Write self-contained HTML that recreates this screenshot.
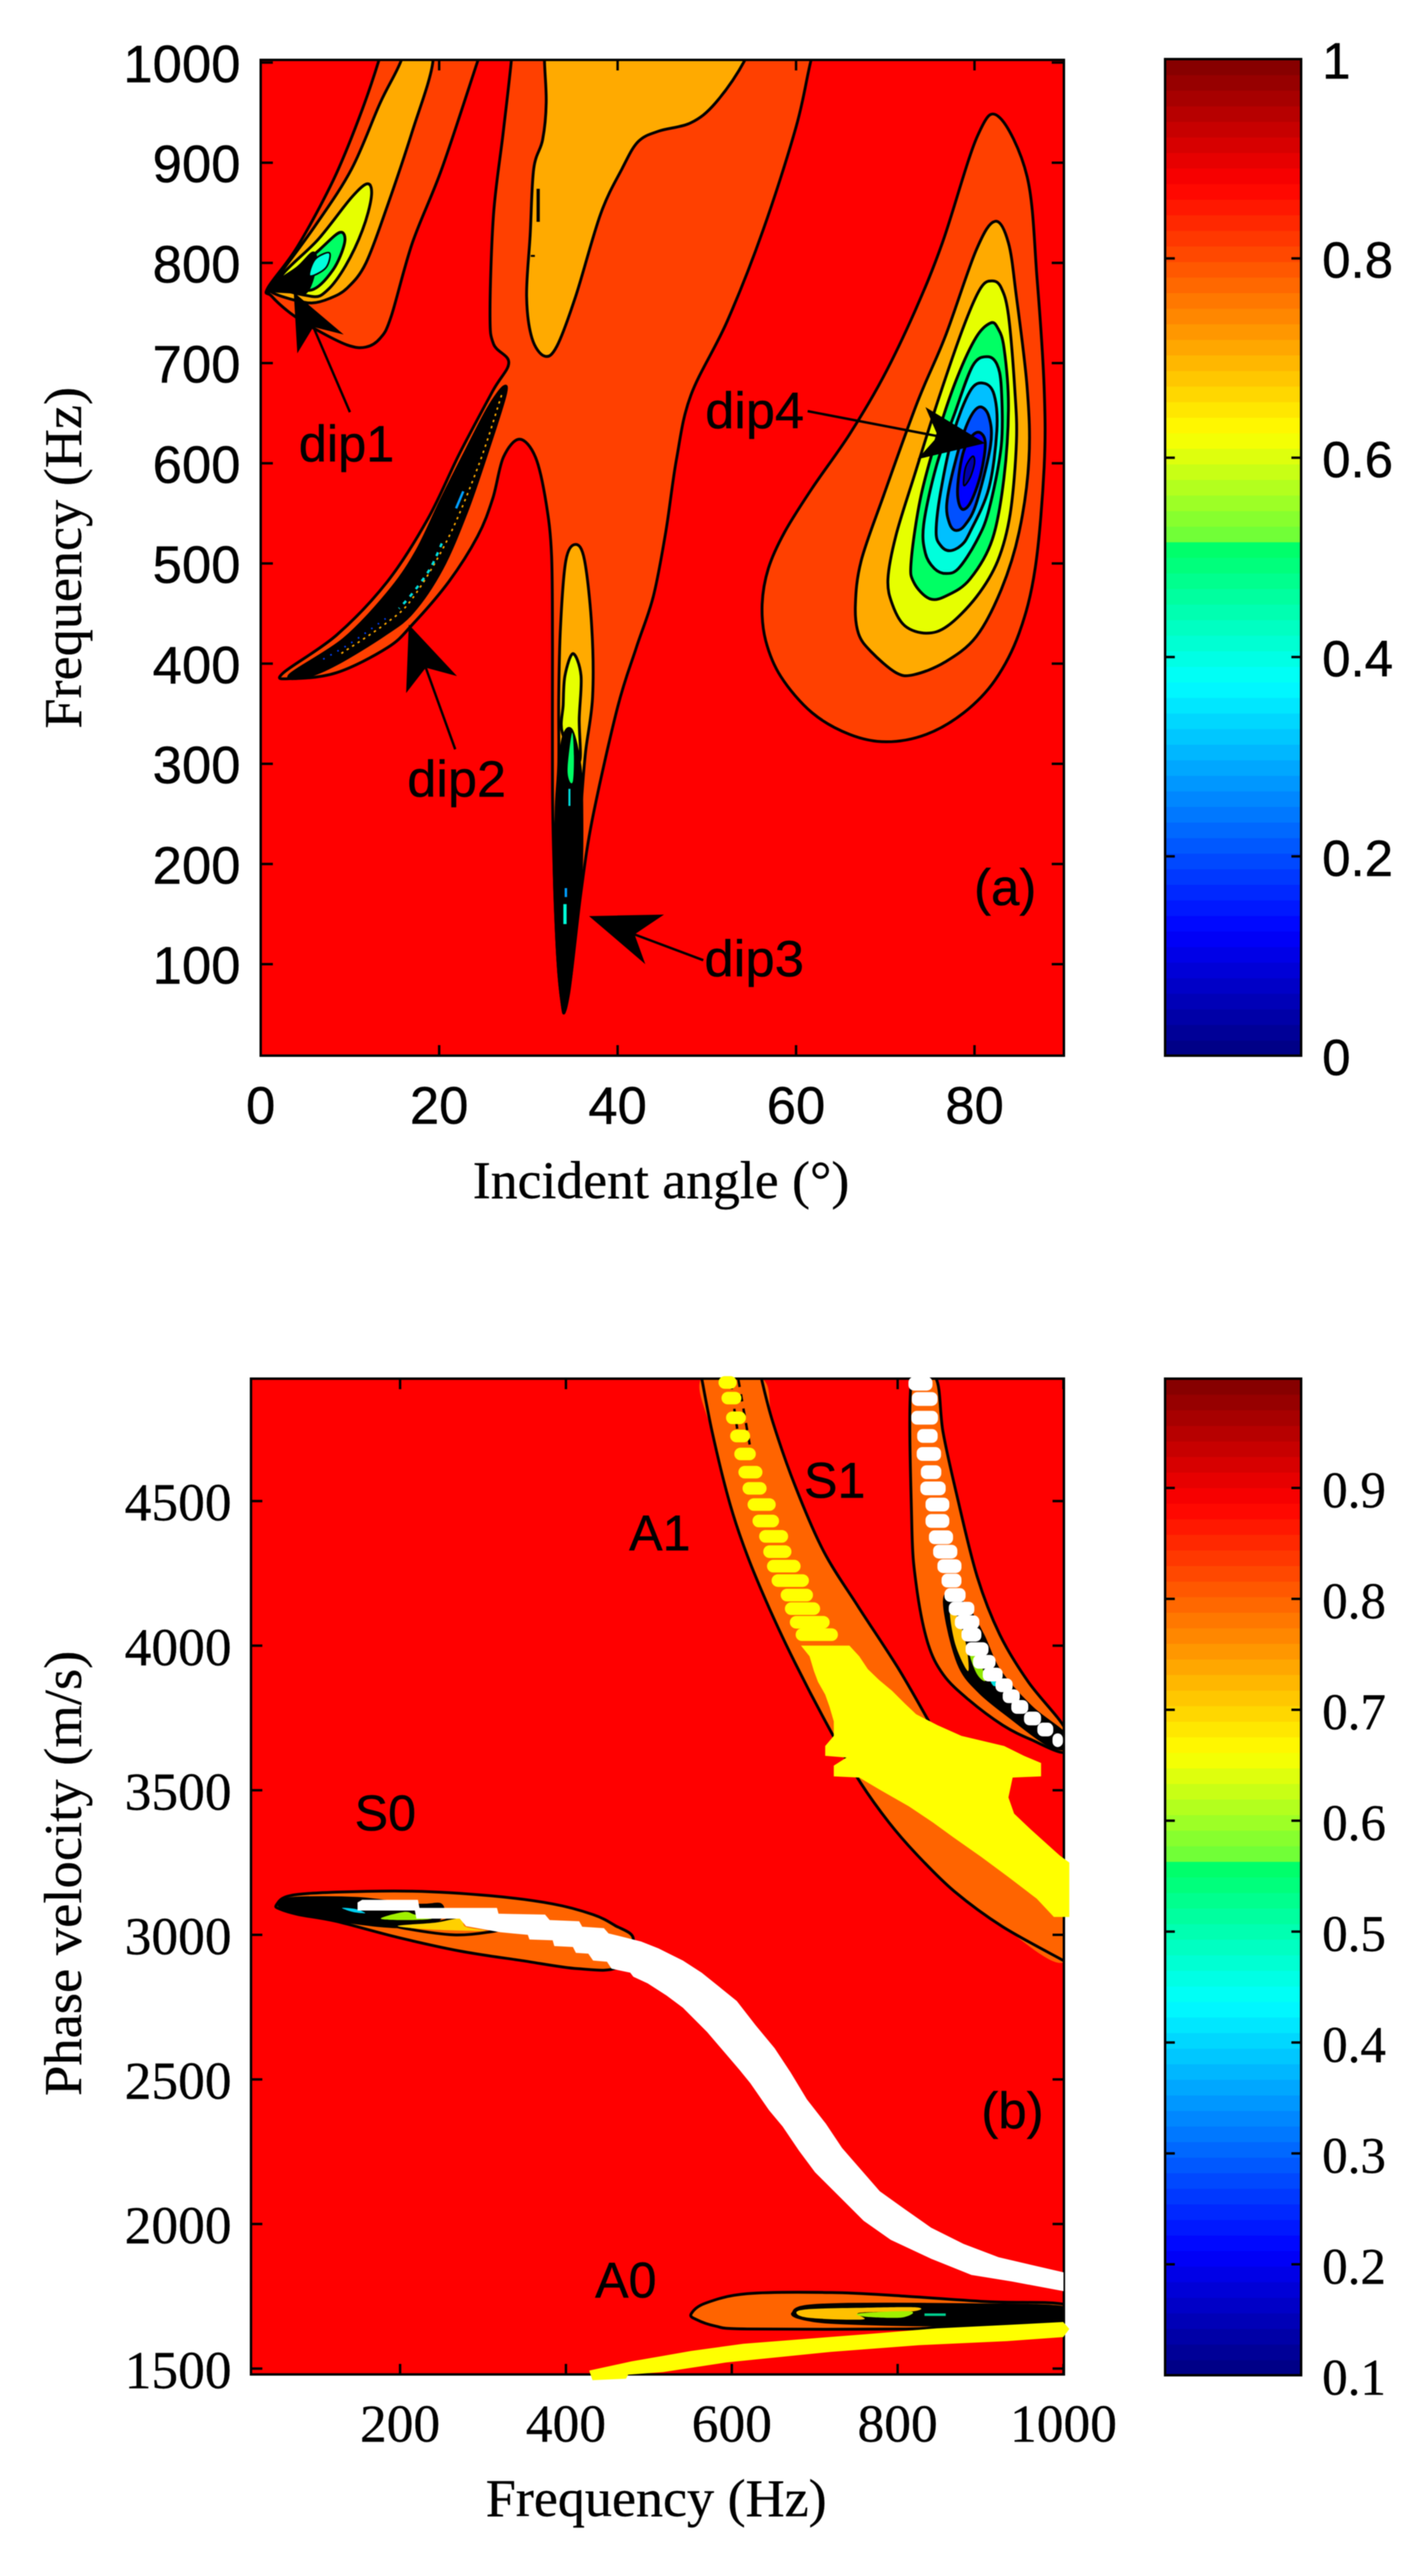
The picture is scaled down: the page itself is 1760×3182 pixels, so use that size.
<!DOCTYPE html>
<html lang="en">
<head>
<meta charset="utf-8">
<title>Reflection contour and dispersion figure</title>
<style>
html,body{margin:0;padding:0;background:#fff}
svg{display:block;filter:blur(.6px)}
.sans{font-family:"Liberation Sans",Arial,sans-serif;fill:#000;stroke:#000;stroke-width:.5px}
.serif{font-family:"Liberation Serif","Times New Roman",serif;fill:#000;stroke:#000;stroke-width:.4px}
</style>
</head>
<body>
<svg id="fig" xmlns="http://www.w3.org/2000/svg" width="1760" height="3182" viewBox="0 0 1760 3182">
  <defs>
    <clipPath id="clipA"><rect x="322" y="74" width="992" height="1230"/></clipPath>
    <clipPath id="clipB"><rect x="310" y="1703" width="1004" height="1230"/></clipPath>
  </defs>
  <rect width="1760" height="3182" fill="#fff"/>

  <g>
    <rect x="322" y="74" width="992" height="1230" fill="#ff0000"/>
    <g id="aMarks" clip-path="url(#clipA)"></g>
    <g id="aArrows"></g>
    <g id="aTicks"></g>
    <rect x="322" y="74" width="992" height="1230" fill="none" stroke="#000" stroke-width="3"/>
    <text class="sans" x="369" y="570" font-size="63" textLength="118" lengthAdjust="spacingAndGlyphs">dip1</text>
    <text class="sans" x="503" y="984" font-size="63" textLength="122" lengthAdjust="spacingAndGlyphs">dip2</text>
    <text class="sans" x="870" y="1206" font-size="63" textLength="123" lengthAdjust="spacingAndGlyphs">dip3</text>
    <text class="sans" x="871" y="529" font-size="63" textLength="122" lengthAdjust="spacingAndGlyphs">dip4</text>
    <text class="sans" x="1203" y="1118" font-size="63">(a)</text>
    <text class="serif" x="584" y="1480" font-size="66" textLength="465" lengthAdjust="spacingAndGlyphs">Incident angle (°)</text>
    <text class="serif" transform="rotate(-90 100 900)" x="100" y="900" font-size="66" textLength="422" lengthAdjust="spacingAndGlyphs">Frequency (Hz)</text>
  </g>
  <g id="aBar"></g>

  <g>
    <rect x="310" y="1703" width="1004" height="1230" fill="#ff0000"/>
    <g id="bMarks" clip-path="url(#clipB)"></g>
    <g id="bTicks"></g>
    <rect x="310" y="1703" width="1004" height="1230" fill="none" stroke="#000" stroke-width="3"/>
    <g id="bOver"></g>
    <text class="sans" x="777" y="1915" font-size="62">A1</text>
    <text class="sans" x="993" y="1850" font-size="62">S1</text>
    <text class="sans" x="438" y="2261" font-size="62">S0</text>
    <text class="sans" x="735" y="2838" font-size="62">A0</text>
    <text class="sans" x="1212" y="2629" font-size="63">(b)</text>
    <text class="serif" x="600" y="3108" font-size="66" textLength="421" lengthAdjust="spacingAndGlyphs">Frequency (Hz)</text>
    <text class="serif" transform="rotate(-90 100 2589)" x="100" y="2589" font-size="66" textLength="550" lengthAdjust="spacingAndGlyphs">Phase velocity (m/s)</text>
  </g>
  <g id="bBar"></g>
</svg>

<script>
/* ---------- tick values ---------- */
const aXTicks = [0, 20, 40, 60, 80];
const aYTicks = [100, 200, 300, 400, 500, 600, 700, 800, 900, 1000];
const bXTicks = [200, 400, 600, 800, 1000];
const bYTicks = [1500, 2000, 2500, 3000, 3500, 4000, 4500];
const barATicks = [0, 0.2, 0.4, 0.6, 0.8, 1];
const barATickLabels = ['0', '0.2', '0.4', '0.6', '0.8', '1'];
const barBTicks = [0.1, 0.2, 0.3, 0.4, 0.5, 0.6, 0.7, 0.8, 0.9];
const barBTickLabels = ['0.1', '0.2', '0.3', '0.4', '0.5', '0.6', '0.7', '0.8', '0.9'];

/* ---------- panel (a) contours: [incident angle deg, frequency Hz] ---------- */
const dip1Outer = [[0.8,775],[4.1,816],[8.1,882],[11,944],[13.2,1001],[15,1060],[26.5,1060],[24.3,1001],[20.3,894],[17,820],[14.6,746],[13.4,725],[11.8,716],[9.7,718],[6.1,734],[3.3,750],[1.2,767]];
const dip1Orange = [[1.2,777],[6.1,837],[10.2,894],[13.4,960],[15.7,1001],[17,1040],[18.5,1040],[19.3,1001],[17,931.5],[14.2,857],[11.8,800],[9.7,775],[7.7,764.5],[5.7,760],[3.3,764],[1.2,771]];
const dip1Yellow = [[12,879],[10.2,865.6],[6.5,824],[2,781],[5.7,766.6],[7.5,773],[9.5,797],[11.4,832.6],[12.4,865.6]];
const dip1Green = [[8.9,830.5],[6.7,814],[2.9,781],[5.7,773],[8.1,793],[9.4,820]];
const dip1Core = [[1,775],[4.1,795],[5.9,810],[6.1,795],[5.1,771],[3.3,771]];
const dip1Cyan = [[7.7,810],[6.1,803.6],[5.5,787],[7.3,795]];

const centralLevel = [[42.1,416],[40,356.5],[37.2,246],[35.9,172],[34.8,90],[34.1,54],[33.8,59],[33.3,104],[32.9,189],[32.7,274],[32.7,416],[32.6,507],[32,560],[30.8,606],[29,624],[27.2,606],[26,564.6],[24.3,527],[21.1,482],[17,439],[14.2,416],[8.5,391],[3.3,385],[2.5,390.6],[8.5,428.5],[14.2,482],[18.7,544],[22.3,610],[26,672],[27.8,700.6],[26.1,719],[25.7,750],[26.1,849],[27.2,931.5],[28.1,1003],[28.6,1060],[63.5,1060],[61.7,1003],[60,935.6],[56.3,832.6],[52.3,742],[48.2,667.7],[46.6,604],[45.4,531.6],[44,467]];
const centralOrange = [[31.7,1060],[31.8,1003],[32,960],[31.6,923],[30.6,894],[30.2,828],[29.8,766.6],[30.4,725],[31.8,707],[33.2,717],[35.3,766.6],[38.1,849],[40.5,894],[42.3,921],[44.6,931.5],[48.2,939.8],[51,960],[54.3,1003],[57,1060]];
const centralMark = [[31.1,874],[31.1,841]];
const centralDot = [[30.5,808],[30.5,806]];

const dip2Core = [[27.2,676],[25.5,655],[23.1,614],[20.3,564.6],[17.4,511],[14.2,470],[9.3,424.4],[3.3,389],[5.1,387],[8.5,399.7],[13.8,428.5],[17,451],[20.3,494.5],[23.1,552],[25.5,614],[27.4,667.7]];
const dip2EdgeDots = [[27,668],[24.5,600],[21,525],[17,465],[14,440],[9,410]];
const dip2StreakBlue = [[22.7,572],[21.9,555]];
const dip2StreakCyan = [[20.3,520],[19,495],[17,470],[15.5,455]];
const dip2StreakDark = [[14,445],[10,420],[6.5,402]];

const spikeOrange = [[35.3,519],[34.2,503],[33.6,437],[33.4,367],[33.4,300],[33.1,251],[33.2,180],[35.7,180],[35.7,229],[35.9,257],[36.4,311],[37.2,367],[37.1,437],[36.3,503]];
const spikeYellow = [[35,410],[34.1,388],[33.9,359],[33.8,331],[35.7,302],[35.7,345],[35.9,388]];
const spikeCore = [[34.8,334],[33.8,322.4],[33.4,274],[33,232],[32.9,189],[33.3,104],[33.8,59],[34.1,54],[34.5,70],[34.8,90],[35.3,132],[35.9,189],[36,246],[35.8,297]];
const spikeGreen = [[34.9,331],[34.4,297],[34.6,283],[35,283],[35.1,308]];
const spikeCyan1 = [[34.6,275],[34.6,258]];
const spikeCyan2 = [[34.2,176],[34.2,167]];
const spikeCyan3 = [[34.1,160],[34.1,140]];

const dip4Outer = [[82.7,946],[85.9,886],[87,786],[87.8,675.7],[87.8,596],[86.8,495],[85,430.4],[82.3,383.5],[78.8,351],[74.6,329.4],[70.1,322],[66,329.4],[61.8,351],[58.3,387],[56.6,423],[56.2,459],[56.9,495],[58.7,531],[61.8,575],[66,629],[69.8,686.5],[73.3,751.5],[76.4,820],[80.3,926]];
const dip4Orange = [[82.3,841.5],[83.8,820],[84.7,766],[85.9,675.7],[86.1,603.6],[85,531.4],[83,474],[80.2,427],[76.7,401.6],[73.2,389],[71.2,391],[68.4,412],[67,430],[66.65,459],[67.3,502.6],[69.8,567.5],[73.6,661],[76.7,726],[80.2,813]];
const dip4Yellow = [[70.3,484.5],[70.8,459],[72.2,437.7],[74.6,430.4],[77,437.7],[80.2,466.5],[82.6,502.6],[84,549.5],[84.7,621.6],[84.5,675.7],[83.8,748],[83,775],[82,782],[80.7,775],[78.8,737],[76,665],[73.3,589],[71.2,528]];
const dip4Green = [[72.9,502.6],[73.2,481],[75,464.7],[77,468.3],[79.5,484.5],[82,524],[83.3,585.5],[83.8,657.7],[83.3,715.4],[82.6,735],[81.8,740],[80.2,726],[78.1,686.5],[76,632.4],[74,567.5]];
const dip4Cyan = [[81.4,706.4],[79.8,697.4],[77.8,650.5],[75.7,596.4],[74.3,538.6],[74.5,510],[75.5,495],[76.8,490],[78.2,495],[80.2,522],[81.6,553],[83,618],[83,675.7],[82.5,699]];
const dip4Sky = [[81,680],[79.5,672],[77.6,629],[76.2,571],[75.7,531.4],[76.2,518],[77.2,512.7],[78.5,518],[79.5,531.4],[81.6,574.7],[82.5,632.4],[82.2,668.5]];
const dip4Blue = [[80.5,656],[79.2,639.6],[77.8,600],[76.9,560],[77.2,540],[77.9,533],[78.9,538],[80.2,560],[81.8,618],[81.6,647]];
const dip4DeepBlue = [[80.2,630.6],[78.8,612.6],[78.1,574.7],[78.5,555],[79.5,560],[80.7,589],[81.2,621.6]];
const dip4Navy = [[79.8,607],[79,596],[78.8,578],[79.5,585.5],[80,600]];

/* annotation arrows: tip, barb, notch, barb, tail in data units */
const arrowDip1 = [[3.7,770.7],[4.1,709.7],[5.9,736],[9.3,728.5],[10,651]];
const arrowDip2 = [[16.6,439],[16.3,370.6],[18.5,396],[22,387.6],[21.8,314.5]];
const arrowDip3 = [[36.8,148],[45.2,149.5],[41.9,129.7],[43.1,100],[49.6,104]];
const arrowDip4 = [[81.2,620],[74.5,656],[75.9,627],[73.6,604],[61.3,652]];

/* ---------- panel (b) contours: [frequency Hz, phase velocity m/s] ---------- */
const a1Region = [[563.7,4925],[577.4,4725],[598,4488],[618.5,4313],[645.9,4125],[676.7,3938],[721.2,3694],[755.5,3525],[789.7,3388],[824,3275],[868.5,3150],[926.7,3028],[1002,2908],[1002,3212],[961,3337.7],[930,3425],[909.6,3550],[875.4,3638],[837.7,3738],[800,3925],[752,4137],[711,4325],[676.7,4550],[649.3,4775],[635.6,4925]];
const a1LowerLine = [[563.7,4925],[577.4,4725],[598,4488],[618.5,4313],[645.9,4125],[676.7,3938],[721.2,3694],[755.5,3525],[789.7,3388],[824,3275],[868.5,3150],[926.7,3028],[1002,2908]];
const a1UpperLine = [[635.6,4925],[649.3,4775],[676.7,4550],[711,4325],[752,4137],[800,3925],[837.7,3738]];
const a1DashLeft = [[598,4919],[606.5,4750]];
const a1DashRight = [[608,4919],[622,4688]];

const s1Region = [[817,4925],[817,4425],[822.3,4213],[836,4013],[855,3900],[885.6,3813],[926.7,3725],[961,3675],[1002,3631],[1002,3713],[957.5,3875],[923.3,4037.7],[896,4238],[872,4513],[854.8,4737.7],[846,4925]];
const s1Core = [[858,4175],[860,4075],[875.3,3925],[899.3,3838],[937,3750],[978,3663],[1002,3644],[1002,3694],[961,3788],[923,3913],[902.7,4038],[882,4138]];
const s1Orange = [[863,4112],[870,4000],[885,3912],[882,4012],[870,4112]];
const s1Green = [[887,3969],[896,3900],[906,3881],[896,3969]];
const s1Cyan = [[912,3881],[922,3869],[916,3860]];

const s0Region = [[50.8,3103],[66.5,3135],[122.5,3147.5],[216,3151],[309.4,3135],[384,3107],[432.7,3070],[458.8,3033],[481.3,2986],[462.6,2888],[414,2883],[346.7,2911],[272,2944],[197.3,2991],[122.5,3047],[77.7,3070],[55.2,3089]];
const s0Core = [[53.4,3103],[70.2,3126],[148.7,3126],[219.7,3103],[249.6,3103],[244,3048.6],[197.2,3028],[122.5,3051.4],[77.7,3079]];
const s0Lobe = [[197,3033],[242,3042],[272,3056],[316.8,3023],[305.6,3009],[264.5,3000],[212.2,3019]];
const s0Yellow = [[197,3031],[242,3042],[272,3056],[279,3028],[302,3014],[235,3019]];
const s0Green = [[176.7,3056],[204.7,3079],[217.8,3070],[238.4,3056],[208.5,3051]];
const s0Cyan = [[130,3093],[146.8,3089],[158,3075],[143,3079]];

const a0Region = [[551,1689],[568,1726],[618.6,1759],[720,1763],[805,1751],[911,1731],[1003,1721],[1003,1656],[864,1645],[805,1637],[618.6,1637],[580.5,1647],[557,1670]];
const a0Core = [[673.7,1691.5],[707.5,1719.5],[889.6,1721],[1003,1710],[1003,1658],[847,1651],[733,1658],[690.6,1670]];
const a0Orange = [[678,1691.5],[690.6,1705],[750,1710],[822,1712],[817.6,1698],[754,1693],[758,1670],[695,1675]];
const a0Green = [[754,1691],[815.5,1698],[805,1676.6],[762.6,1679]];
const a0Teal = [[832.4,1691],[858,1691],[858,1682],[832.4,1682]];

/* ---------- panel (b) mode points ---------- */
const a1Velocity = [4910,4856,4788,4725,4663,4600,4544,4488,4431,4378,4325,4275,4225,4175,4128,4081,4038];
const a1FreqLow = [584,587.6,593,598,603,608,613,619,625,633,638,642.5,648,659,664,670,677];
const a1FreqHigh = [606,611.6,617,622,629,637,642,653,657,668,672,683,693,698,706.5,718,728];

const a1BlobEdge = [[683.5,4000],[741.8,4000],[753.8,3963],[764,3919],[777.7,3881],[793.2,3844],[808.6,3800],[822.3,3763],[848,3725],[877,3688],[928.4,3653],[952.4,3619],[973,3594],[973,3548],[938.7,3544],[933.6,3475],[940.4,3419],[961,3363],[995.2,3275],[1007,3250],[1007,3062],[988.4,3062],[967.8,3125],[933.6,3200],[901,3269],[866.8,3338],[842.8,3388],[813.7,3444],[779.5,3500],[753.8,3544],[723,3548],[723,3585],[738.3,3613],[712.7,3619],[712.7,3653],[723,3688],[723,3738],[717.9,3788],[712.7,3831],[704,3875],[699,3913],[693.8,3963]];

const s1Velocity = [4906,4853,4788,4725,4663,4600,4544,4488,4431,4375,4325,4275,4225,4175,4128,4081,4038,3988,3944,3900,3863,3825,3788,3748,3710,3673];
const s1FreqLow = [813,817,816.4,823.6,823,828,827.4,833.6,833.6,837.7,842.8,848,853,856.5,861.6,869,877,882,890.8,902.7,918,926.7,937,952.4,968.5,986.7];
const s1FreqHigh = [842,848,848.6,848.3,852.4,852.7,858,862.3,862.3,866.8,872,877,877,882,892.5,898.6,901,909.6,918,926.7,938.7,947.3,957.5,973,987.7,999.3];

const s0a0UpperEdge = [[148.7,3112],[154.3,3121],[221.5,3121],[223.4,3093],[316.8,3093],[318.7,3073],[374.8,3070],[380.4,3051],[415.9,3047],[419.6,3028],[445.8,3023],[451.4,3005],[490.6,2977],[511.6,2953],[541,2911],[563.7,2869],[589.7,2809],[606,2771],[628.8,2687],[651.6,2608],[671,2524],[690.6,2431],[713.4,2347],[733,2263],[755.7,2188],[778.5,2113.5],[807.8,2053],[840.4,1987.5],[879.4,1931.5],[921.8,1885],[1000,1833]];
const s0a0LowerEdge = [[1000,1768],[938,1801],[889,1824],[840.4,1880],[791.6,1945.5],[759,2011],[729.7,2095],[700.4,2179],[681,2253.5],[661.3,2337.4],[645,2393.4],[622.3,2487],[609.3,2533.4],[570.2,2664],[541,2748],[521.4,2790],[498.6,2832],[481.3,2855],[477.5,2869],[455,2883],[449.5,2907],[432.7,2911],[427,2935],[412,2937.5],[408.4,2958],[386,2961],[384,2981],[356,2984],[354,3000],[320.6,3009],[279.5,3030],[272,3056],[219.7,3056],[217.8,3084],[148.7,3084]];
const a0YellowBand = [[428,1493],[479,1525],[517,1544],[551,1561],[614,1586],[762.6,1619],[847,1639],[932,1651],[999.7,1661],[1007,1637],[999.7,1609],[932,1595],[826,1581],[720,1558],[593,1521],[517,1488],[475,1479],[472.5,1465],[432,1460]];

/* ---------- axis functions ---------- */
function xA(a) { return 322 + a * 11.02; }
function yA(f) { return 1191 - (f - 100) * 1.2375; }
function xB(f) { return 1313.5 - (1000 - f) * 1.0242; }
function yB(v) { return 2925.8 - (v - 1500) * 0.3572; }
function yBarA(t) { return 1304 - t * 1231; }
function yBarB(t) { return 2934 - (t - 0.1) * 1370; }

const NS = 'http://www.w3.org/2000/svg';
function byId(id) { return document.getElementById(id); }

function named(el, name) {
  
  
  return el;
}

function project(points, xf, yf) {
  return points.map(function (p) { return [xf(p[0]), yf(p[1])]; });
}

function smoothPath(pts, closed) {
  const n = pts.length;
  let d = 'M' + pts[0][0].toFixed(1) + ' ' + pts[0][1].toFixed(1);
  const last = closed ? n : n - 1;
  for (let i = 0; i < last; i++) {
    const p0 = closed ? pts[(i - 1 + n) % n] : pts[Math.max(i - 1, 0)];
    const p1 = pts[i];
    const p2 = pts[(i + 1) % n];
    const p3 = closed ? pts[(i + 2) % n] : pts[Math.min(i + 2, n - 1)];
    const c1x = p1[0] + (p2[0] - p0[0]) / 6;
    const c1y = p1[1] + (p2[1] - p0[1]) / 6;
    const c2x = p2[0] - (p3[0] - p1[0]) / 6;
    const c2y = p2[1] - (p3[1] - p1[1]) / 6;
    d += 'C' + c1x.toFixed(1) + ' ' + c1y.toFixed(1) + ' ' + c2x.toFixed(1) + ' ' + c2y.toFixed(1) + ' ' + p2[0].toFixed(1) + ' ' + p2[1].toFixed(1);
  }
  return closed ? d + 'Z' : d;
}

function addRegion(parent, points, xf, yf, fill, stroke, width, name) {
  const el = document.createElementNS(NS, 'path');
  el.setAttribute('d', smoothPath(project(points, xf, yf), true));
  el.setAttribute('fill', fill);
  el.setAttribute('stroke', stroke);
  el.setAttribute('stroke-width', width);
  el.setAttribute('stroke-linejoin', 'round');
  parent.appendChild(named(el, name));
}

function addLine(parent, points, xf, yf, stroke, width, dash, name) {
  const el = document.createElementNS(NS, 'path');
  el.setAttribute('d', smoothPath(project(points, xf, yf), false));
  el.setAttribute('fill', 'none');
  el.setAttribute('stroke', stroke);
  el.setAttribute('stroke-width', width);
  if (dash) { el.setAttribute('stroke-dasharray', dash); }
  parent.appendChild(named(el, name));
}

function addPolygon(parent, points, xf, yf, fill, name) {
  const el = document.createElementNS(NS, 'polygon');
  el.setAttribute('points', project(points, xf, yf).map(function (p) { return p[0].toFixed(1) + ',' + p[1].toFixed(1); }).join(' '));
  el.setAttribute('fill', fill);
  parent.appendChild(named(el, name));
}

function addRows(parent, vel, low, high, h, rx, fill, name) {
  vel.forEach(function (v, i) {
    const el = document.createElementNS(NS, 'rect');
    el.setAttribute('x', xB(low[i]).toFixed(1));
    el.setAttribute('y', (yB(v) - h / 2).toFixed(1));
    el.setAttribute('width', (xB(high[i]) - xB(low[i])).toFixed(1));
    el.setAttribute('height', h);
    el.setAttribute('rx', rx);
    el.setAttribute('fill', fill);
    parent.appendChild(named(el, name));
  });
}

function addArrow(parent, a, name) {
  const pts = project(a, xA, yA);
  const shaft = document.createElementNS(NS, 'line');
  shaft.setAttribute('x1', pts[2][0]);
  shaft.setAttribute('y1', pts[2][1]);
  shaft.setAttribute('x2', pts[4][0]);
  shaft.setAttribute('y2', pts[4][1]);
  shaft.setAttribute('stroke', '#000');
  shaft.setAttribute('stroke-width', 3);
  parent.appendChild(named(shaft, name + '-shaft'));
  const head = document.createElementNS(NS, 'polygon');
  head.setAttribute('points', pts.slice(0, 4).map(function (p) { return p[0].toFixed(1) + ',' + p[1].toFixed(1); }).join(' '));
  head.setAttribute('fill', '#000');
  parent.appendChild(named(head, name + '-head'));
}

function addSeg(parent, x1, y1, x2, y2, name) {
  const el = document.createElementNS(NS, 'line');
  el.setAttribute('x1', x1);
  el.setAttribute('y1', y1);
  el.setAttribute('x2', x2);
  el.setAttribute('y2', y2);
  el.setAttribute('stroke', '#000');
  el.setAttribute('stroke-width', 3);
  parent.appendChild(named(el, name));
}

function addText(parent, x, y, str, cls, size, anchor, name) {
  const el = document.createElementNS(NS, 'text');
  el.setAttribute('x', x);
  el.setAttribute('y', y);
  el.setAttribute('class', cls);
  el.setAttribute('font-size', size);
  el.setAttribute('text-anchor', anchor);
  el.textContent = str;
  parent.appendChild(named(el, name));
}

/* colormap as it appears in the colorbars (jet, with a jump through the greens) */
function colormap(v) {
  const c = function (x) { return Math.round(255 * Math.max(0, Math.min(1, x))); };
  if (v > 0.375 && v <= 0.514) {
    const t = (v - 0.375) / 0.139;
    return 'rgb(0,255,' + Math.round(255 - 155 * t) + ')';
  }
  if (v > 0.514 && v < 0.625) {
    const t = (v - 0.514) / 0.111;
    return 'rgb(' + Math.round(100 + 155 * t) + ',255,' + Math.round(60 - 60 * t) + ')';
  }
  return 'rgb(' + c(1.5 - Math.abs(4 * v - 3)) + ',' + c(1.5 - Math.abs(4 * v - 2)) + ',' + c(1.5 - Math.abs(4 * v - 1)) + ')';
}

function drawColorbar(parent, top, bottom, ticks, labels, yf, cls, prefix) {
  const x0 = 1439, x1 = 1607, n = 64;
  const h = (bottom - top) / n;
  for (let i = 0; i < n; i++) {
    const el = document.createElementNS(NS, 'rect');
    el.setAttribute('x', x0);
    el.setAttribute('y', (bottom - (i + 1) * h).toFixed(2));
    el.setAttribute('width', x1 - x0);
    el.setAttribute('height', (h + 0.6).toFixed(2));
    el.setAttribute('fill', colormap((i + 0.5) / n));
    parent.appendChild(named(el, prefix + '-color-band'));
  }
  const fr = document.createElementNS(NS, 'rect');
  fr.setAttribute('x', x0);
  fr.setAttribute('y', top);
  fr.setAttribute('width', x1 - x0);
  fr.setAttribute('height', bottom - top);
  fr.setAttribute('fill', 'none');
  fr.setAttribute('stroke', '#000');
  fr.setAttribute('stroke-width', 3);
  parent.appendChild(named(fr, prefix + '-frame'));
  ticks.forEach(function (t, i) {
    const y = yf(t);
    if (y > top + 2 && y < bottom - 2) {
      addSeg(parent, x0, y, x0 + 12, y, prefix + '-tick');
      addSeg(parent, x1 - 12, y, x1, y, prefix + '-tick');
    }
    addText(parent, 1633, y + 24, labels[i], cls, 63, 'start', prefix + '-tick-label');
  });
}

/* ---------- draw panel (a) ---------- */
const A = byId('aMarks');
const K = '#000';
const LW = 3.5;
const C_RO = '#ff4000', C_OR = '#ffaa00', C_YE = '#e6ff00', C_GR = '#00ff64', C_CY = '#00ffdc', C_SK = '#00c0ff', C_BL = '#0050ff', C_DB = '#0000ff', C_NV = '#0000aa';

addRegion(A, centralLevel, xA, yA, C_RO, K, LW, 'central-contour-level-1');
addRegion(A, dip1Outer, xA, yA, C_RO, K, LW, 'dip1-contour-level-1');
addRegion(A, dip4Outer, xA, yA, C_RO, K, LW, 'dip4-contour-level-1');
addRegion(A, centralOrange, xA, yA, C_OR, K, LW, 'central-contour-level-2');
addLine(A, centralMark, xA, yA, K, 4, null, 'central-contour-fragment');
addLine(A, centralDot, xA, yA, K, 5, null, 'central-contour-dot');
addRegion(A, dip1Orange, xA, yA, C_OR, K, LW, 'dip1-contour-level-2');
addRegion(A, dip1Yellow, xA, yA, C_YE, K, LW, 'dip1-contour-level-3');
addRegion(A, dip1Green, xA, yA, C_GR, K, LW, 'dip1-contour-level-4');
addRegion(A, dip1Core, xA, yA, K, K, LW, 'dip1-core');
addRegion(A, dip1Cyan, xA, yA, C_CY, K, 2, 'dip1-contour-level-5');
addRegion(A, dip2Core, xA, yA, K, K, LW, 'dip2-core');
addLine(A, dip2EdgeDots, xA, yA, C_OR, 2, '3 5', 'dip2-edge-contour');
addLine(A, dip2StreakBlue, xA, yA, '#00a0ff', 3, null, 'dip2-streak-blue');
addLine(A, dip2StreakCyan, xA, yA, '#00e0e0', 3, '5 7', 'dip2-streak-cyan');
addLine(A, dip2StreakDark, xA, yA, '#0040ff', 2, '2 8', 'dip2-streak-deep');
addRegion(A, spikeOrange, xA, yA, C_OR, K, LW, 'dip3-contour-level-2');
addRegion(A, spikeYellow, xA, yA, C_YE, K, LW, 'dip3-contour-level-3');
addRegion(A, spikeCore, xA, yA, K, K, LW, 'dip3-core');
addRegion(A, spikeGreen, xA, yA, C_GR, 'none', 0, 'dip3-contour-level-4');
addLine(A, spikeCyan1, xA, yA, '#00e0e0', 2.5, null, 'dip3-streak-cyan');
addLine(A, spikeCyan2, xA, yA, '#00a0ff', 3, null, 'dip3-streak-blue');
addLine(A, spikeCyan3, xA, yA, C_CY, 4, null, 'dip3-streak-aqua');
addRegion(A, dip4Orange, xA, yA, C_OR, K, LW, 'dip4-contour-level-2');
addRegion(A, dip4Yellow, xA, yA, C_YE, K, LW, 'dip4-contour-level-3');
addRegion(A, dip4Green, xA, yA, C_GR, K, LW, 'dip4-contour-level-4');
addRegion(A, dip4Cyan, xA, yA, C_CY, K, LW, 'dip4-contour-level-5');
addRegion(A, dip4Sky, xA, yA, C_SK, K, LW, 'dip4-contour-level-6');
addRegion(A, dip4Blue, xA, yA, C_BL, K, LW, 'dip4-contour-level-7');
addRegion(A, dip4DeepBlue, xA, yA, C_DB, K, LW, 'dip4-contour-level-8');
addRegion(A, dip4Navy, xA, yA, C_NV, K, 2, 'dip4-contour-level-9');

const AR = byId('aArrows');
addArrow(AR, arrowDip1, 'dip1-arrow');
addArrow(AR, arrowDip2, 'dip2-arrow');
addArrow(AR, arrowDip3, 'dip3-arrow');
addArrow(AR, arrowDip4, 'dip4-arrow');

const AT = byId('aTicks');
aXTicks.forEach(function (t) {
  addSeg(AT, xA(t), 1304, xA(t), 1291, 'x-tick-a');
  addSeg(AT, xA(t), 74, xA(t), 87, 'x-tick-a-top');
  addText(AT, xA(t), 1388, String(t), 'sans', 65, 'middle', 'x-tick-label-a');
});
aYTicks.forEach(function (t) {
  addSeg(AT, 322, yA(t), 337, yA(t), 'y-tick-a');
  addSeg(AT, 1314, yA(t), 1299, yA(t), 'y-tick-a-right');
  addText(AT, 297, yA(t) + 24, String(t), 'sans', 65, 'end', 'y-tick-label-a');
});

drawColorbar(byId('aBar'), 73, 1304, barATicks, barATickLabels, yBarA, 'sans', 'colorbar-a');

/* ---------- draw panel (b) ---------- */
const B = byId('bMarks');
const C_B = '#ff6400';
addRegion(B, a1Region, xB, yB, C_B, 'none', 0, 'a1-contour-fill');
addLine(B, a1LowerLine, xB, yB, K, LW, null, 'a1-contour-lower');
addLine(B, a1UpperLine, xB, yB, K, LW, null, 'a1-contour-upper');
addLine(B, a1DashLeft, xB, yB, K, 3, '9 9', 'a1-inner-contour-left');
addLine(B, a1DashRight, xB, yB, K, 3, '9 9', 'a1-inner-contour-right');
addRegion(B, s1Region, xB, yB, C_B, K, LW, 's1-contour-level-1');
addRegion(B, s1Core, xB, yB, K, K, LW, 's1-core');
addRegion(B, s1Orange, xB, yB, '#ffc000', 'none', 0, 's1-contour-level-2');
addRegion(B, s1Green, xB, yB, '#90e800', 'none', 0, 's1-contour-level-3');
addRegion(B, s1Cyan, xB, yB, '#00e0e0', 'none', 0, 's1-contour-level-4');
addRegion(B, s0Region, xB, yB, C_B, K, LW, 's0-contour-level-1');
addRegion(B, s0Lobe, xB, yB, C_B, K, LW, 's0-contour-lobe');
addRegion(B, s0Core, xB, yB, K, K, LW, 's0-core');
addRegion(B, s0Yellow, xB, yB, '#ffd000', 'none', 0, 's0-contour-level-2');
addRegion(B, s0Green, xB, yB, '#a0f000', 'none', 0, 's0-contour-level-3');
addRegion(B, s0Cyan, xB, yB, '#00d0f0', 'none', 0, 's0-contour-level-4');
addRegion(B, a0Region, xB, yB, C_B, K, LW, 'a0-contour-level-1');
addRegion(B, a0Core, xB, yB, K, K, LW, 'a0-core');
addRegion(B, a0Orange, xB, yB, '#ffc000', 'none', 0, 'a0-contour-level-2');
addRegion(B, a0Green, xB, yB, '#a0f000', 'none', 0, 'a0-contour-level-3');
addPolygon(B, a0Teal, xB, yB, '#00d090', 'a0-contour-level-4');

const BT = byId('bTicks');
bXTicks.forEach(function (t) {
  addSeg(BT, xB(t), 2933, xB(t), 2920, 'x-tick-b');
  addSeg(BT, xB(t), 1703, xB(t), 1716, 'x-tick-b-top');
  addText(BT, xB(t), 3016, String(t), 'serif', 66, 'middle', 'x-tick-label-b');
});
bYTicks.forEach(function (t) {
  addSeg(BT, 310, yB(t), 324, yB(t), 'y-tick-b');
  addSeg(BT, 1314, yB(t), 1300, yB(t), 'y-tick-b-right');
  addText(BT, 286, yB(t) + 24, String(t), 'serif', 66, 'end', 'y-tick-label-b');
});

const BO = byId('bOver');
addPolygon(BO, s0a0UpperEdge.concat(s0a0LowerEdge), xB, yB, '#ffffff', 's0-a0-mode-curve');
addPolygon(BO, a0YellowBand, xB, yB, '#ffff00', 'a0-mode-curve');
addRows(BO, a1Velocity, a1FreqLow, a1FreqHigh, 15.6, 7.8, '#ffff00', 'a1-mode-point');
addPolygon(BO, a1BlobEdge, xB, yB, '#ffff00', 'a1-mode-band');
addRows(BO, s1Velocity, s1FreqLow, s1FreqHigh, 17, 7, '#ffffff', 's1-mode-point');

drawColorbar(byId('bBar'), 1703, 2934, barBTicks, barBTickLabels, yBarB, 'serif', 'colorbar-b');
</script>
</body>
</html>
